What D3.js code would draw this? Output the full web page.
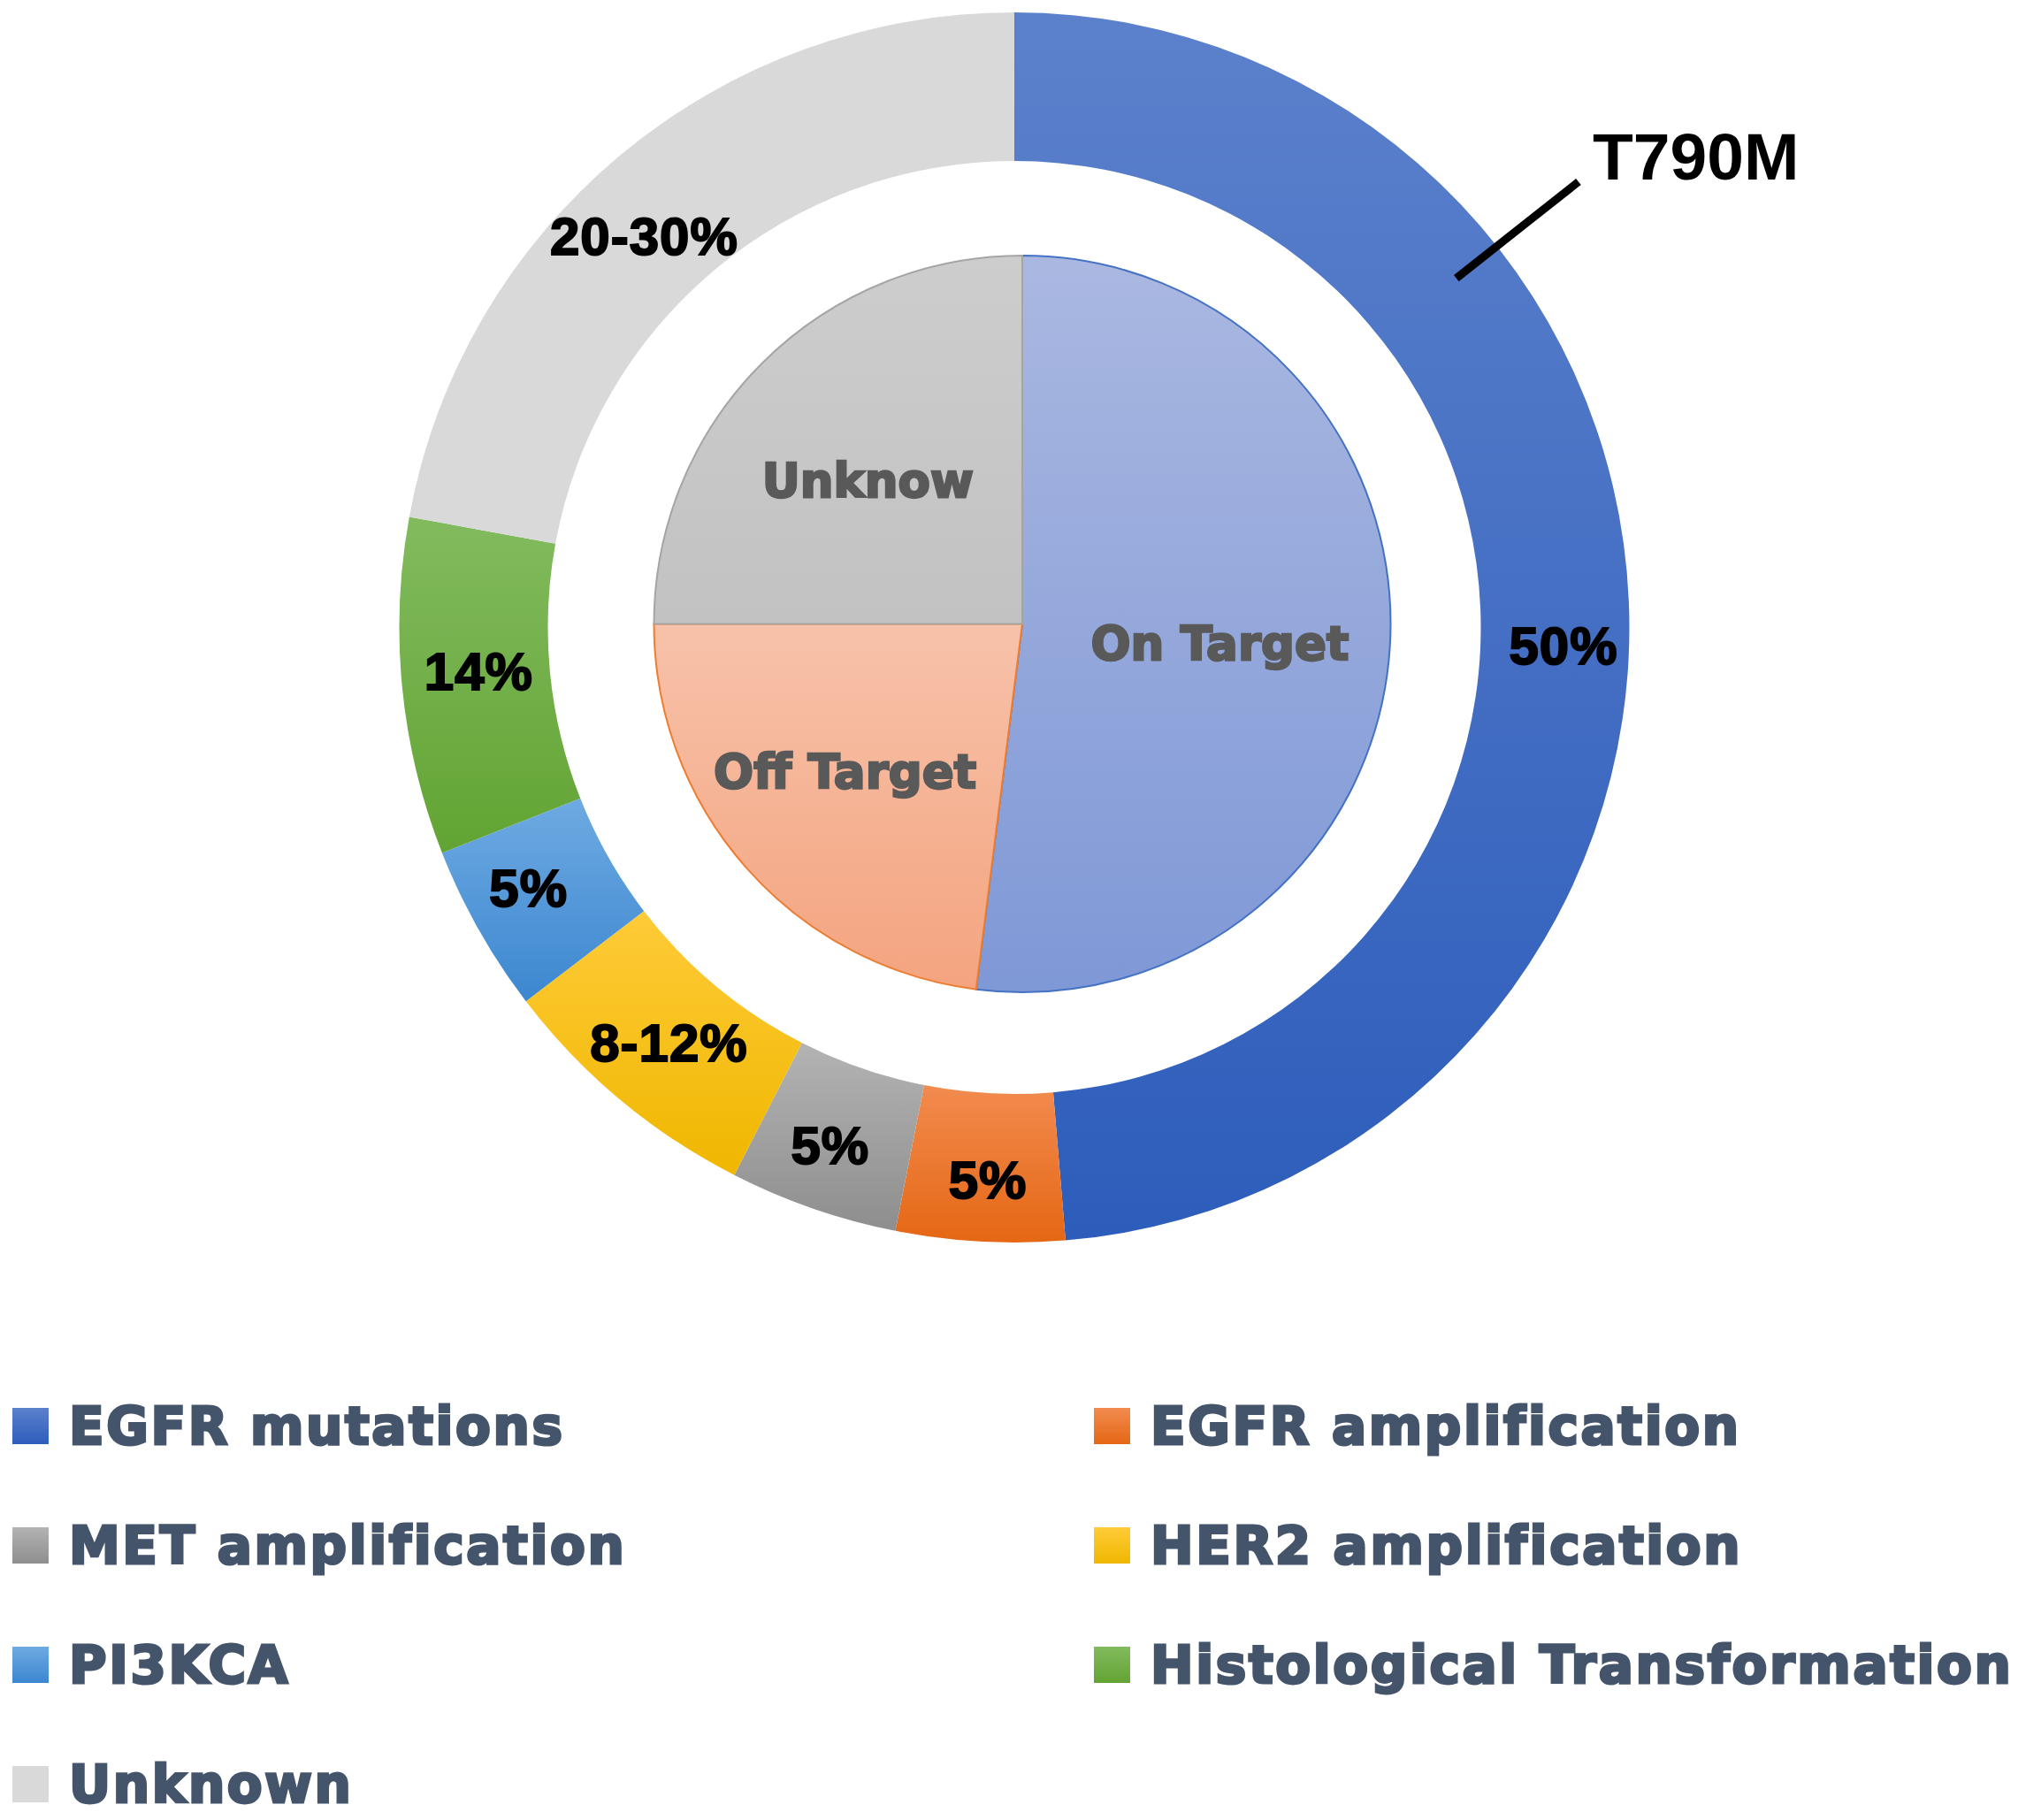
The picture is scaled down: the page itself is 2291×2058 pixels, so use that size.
<!DOCTYPE html>
<html>
<head>
<meta charset="utf-8">
<script src="https://cdn.jsdelivr.net/npm/d3@7"></script>
<style>
  html, body { margin: 0; padding: 0; background: #ffffff; }
  svg { display: block; }
</style>
</head>
<body>
<svg id="chart" width="2291" height="2058"></svg>
<script>
// ---------- data ----------
const outerCategories = ["EGFR mutations", "EGFR amplification", "MET amplification", "HER2 amplification", "PI3KCA", "Histological Transformation", "Unknown"];
const outerValues = [55, 5, 5, 8, 5, 10, 25];
const outerLabels = ["50%", "5%", "5%", "8-12%", "5%", "14%", "20-30%"];

const innerCategories = ["On Target", "Off Target", "Unknow"];
const innerValues = [52, 23, 25];

const annotationText = "T790M";
const annotationCategory = "EGFR mutations";

// ---------- styles / layout ----------
const outerGrad = [
  ["#5c81cc", "#2d5dbb"],
  ["#f28b4f", "#e56714"],
  ["#b3b3b3", "#8e8e8e"],
  ["#ffcb38", "#efb700"],
  ["#6eaae2", "#3c87d0"],
  ["#82bb5e", "#62a433"],
  ["#d9d9d9", "#d9d9d9"]
];
const innerGrad = [
  ["#aab8e1", "#7f98d6"],
  ["#f7c2aa", "#f4a47f"],
  ["#cdcdcd", "#c2c2c2"]
];
const innerStroke = ["#4472c4", "#ed7d31", "#a5a5a5"];

const W = 2291, H = 2058;
const outerC = { x: 1147, y: 709.5 };
const innerC = { x: 1156, y: 705.5 };
const R_OUT = 695.5, R_IN = 527.5, R_PIE = 416.5;

// label nudges (layout only)
const outerNudge = [[10, 45], [4, 13], [-8, 7], [1, -1], [-17, -7], [3, -11], [-27, 27]];
const innerNudge = [[-26, 6], [-13, 1], [2, 14]];

const svg = d3.select("#chart");
const defs = svg.append("defs");

function makeGrad(id, c) {
  const g = defs.append("linearGradient").attr("id", id)
    .attr("x1", 0).attr("y1", 0).attr("x2", 0).attr("y2", 1);
  g.append("stop").attr("offset", "0%").attr("stop-color", c[0]);
  g.append("stop").attr("offset", "100%").attr("stop-color", c[1]);
}
outerGrad.forEach((c, i) => makeGrad("og" + i, c));
innerGrad.forEach((c, i) => makeGrad("ig" + i, c));

const pie = d3.pie().sort(null).value(d => d.v);

// ---------- outer ring ----------
const outerData = pie(outerCategories.map((k, i) => ({ k, v: outerValues[i], lab: outerLabels[i], i })));
const outerArc = d3.arc().innerRadius(R_IN).outerRadius(R_OUT);
const labelArc = d3.arc().innerRadius((R_IN + R_OUT) / 2).outerRadius((R_IN + R_OUT) / 2);

const gOuter = svg.append("g").attr("transform", `translate(${outerC.x},${outerC.y})`);
gOuter.selectAll("path").data(outerData).enter().append("path")
  .attr("d", outerArc)
  .attr("fill", d => `url(#og${d.data.i})`);

gOuter.selectAll("text").data(outerData).enter().append("text")
  .attr("x", d => labelArc.centroid(d)[0] + outerNudge[d.data.i][0])
  .attr("y", d => labelArc.centroid(d)[1] + outerNudge[d.data.i][1])
  .attr("dy", "0.36em")
  .attr("text-anchor", "middle")
  .attr("font-family", "'Liberation Sans', Arial, sans-serif")
  .attr("font-weight", "bold")
  .attr("font-size", 60)
  .attr("fill", "#000000")
  .attr("stroke", "#000000")
  .attr("stroke-width", 2)
  .attr("letter-spacing", 1)
  .text(d => d.data.lab);

// ---------- inner pie ----------
const innerData = pie(innerCategories.map((k, i) => ({ k, v: innerValues[i], i })));
const innerArc = d3.arc().innerRadius(0).outerRadius(R_PIE);
const innerLabelArc = d3.arc().innerRadius(R_PIE * 0.6).outerRadius(R_PIE * 0.6);

const gInner = svg.append("g").attr("transform", `translate(${innerC.x},${innerC.y})`);
gInner.selectAll("path").data(innerData).enter().append("path")
  .attr("d", innerArc)
  .attr("fill", d => `url(#ig${d.data.i})`)
  .attr("stroke", d => innerStroke[d.data.i])
  .attr("stroke-width", 2);

gInner.selectAll("text").data(innerData).enter().append("text")
  .attr("x", d => innerLabelArc.centroid(d)[0] + innerNudge[d.data.i][0])
  .attr("y", d => innerLabelArc.centroid(d)[1] + innerNudge[d.data.i][1])
  .attr("dy", "0.36em")
  .attr("text-anchor", "middle")
  .attr("font-family", "'DejaVu Sans', sans-serif")
  .attr("font-weight", "bold")
  .attr("font-size", 53)
  .attr("fill", "#595959")
  .attr("stroke", "#595959")
  .attr("stroke-width", 2.5)
  .text(d => d.data.k);

// ---------- T790M annotation ----------
const target = outerData.find(d => d.data.k === annotationCategory);
const annAngle = target.startAngle + (target.endAngle - target.startAngle) * 0.295;
const p0 = [Math.sin(annAngle) * 637, -Math.cos(annAngle) * 637];
const p1 = [Math.sin(annAngle) * 813, -Math.cos(annAngle) * 813];
gOuter.append("line")
  .attr("x1", p0[0]).attr("y1", p0[1])
  .attr("x2", p1[0]).attr("y2", p1[1])
  .attr("stroke", "#000").attr("stroke-width", 9);
gOuter.append("text")
  .attr("x", p1[0] + 16).attr("y", p1[1] - 3)
  .attr("font-family", "'Liberation Sans', Arial, sans-serif")
  .attr("font-weight", "bold")
  .attr("font-size", 75)
  .attr("fill", "#000")
  .text(annotationText);

// ---------- legend ----------
const colX = [14, 1237];
const rowY0 = 1633, rowStep = 135, sq = 41;
const legend = svg.append("g");
const items = legend.selectAll("g").data(outerCategories.map((k, i) => ({ k, i }))).enter().append("g")
  .attr("transform", d => `translate(${colX[d.i % 2]},${rowY0 + Math.floor(d.i / 2) * rowStep})`);
items.append("rect")
  .attr("x", 0).attr("y", -sq).attr("width", sq).attr("height", sq)
  .attr("fill", d => `url(#og${d.i})`);
items.append("text")
  .attr("x", 64).attr("y", 0)
  .attr("font-family", "'DejaVu Sans', sans-serif")
  .attr("font-weight", "bold")
  .attr("font-size", 58)
  .attr("letter-spacing", 2.65)
  .attr("fill", "#44546a")
  .attr("stroke", "#44546a")
  .attr("stroke-width", 3)
  .text(d => d.k);
</script>
</body>
</html>
